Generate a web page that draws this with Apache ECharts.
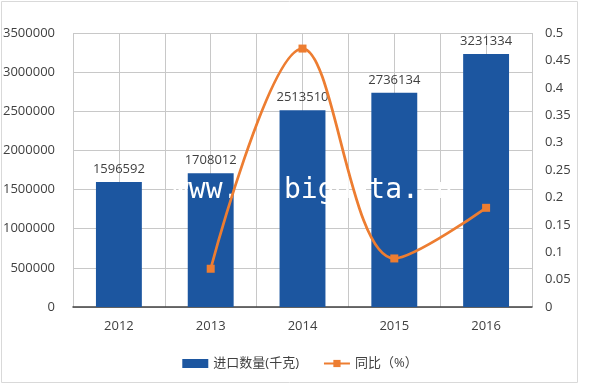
<!doctype html>
<html>
    <head>
        <meta charset="utf-8">
        <title>进口数量</title>
        <style>
            html, body { margin: 0; padding: 0; background: #fff; }
            #main { width: 600px; height: 385px; }
        </style>
    </head>
    <body>
        <div id="main"></div>
        <script src="https://cdn.jsdelivr.net/npm/echarts@6/dist/echarts.min.js"></script>
        <script>
            var years = ['2012', '2013', '2014', '2015', '2016'];
            var importQty = [1596592, 1708012, 2513510, 2736134, 3231334];
            var yoy = [null, 0.0698, 0.4716, 0.0886, 0.181];
            var leftTicks = [0, 3500000, 500000];   // min, max, step
            var rightTicks = [0, 0.5, 0.05];

            var halfSlots = [];
            for (var i = 0; i < years.length * 2; i++) halfSlots.push('');

            var chart = echarts.init(document.getElementById('main'));
            var font = '"Open Sans", "Noto Sans CJK SC", sans-serif';
            var markFont = '28px "DejaVu Sans Mono", monospace';

            chart.setOption({
                animation: false,
                textStyle: { fontFamily: font },
                graphic: [{
                    type: 'rect',
                    shape: { x: 1.5, y: 1.5, width: 576, height: 381 },
                    style: { fill: 'none', stroke: '#d9d9d9', lineWidth: 1 },
                    z: -1
                }, {
                    // watermark: white, so it only shows on the bars
                    type: 'text',
                    x: 172, y: 191,
                    style: { text: 'www.', fill: '#ffffff', verticalAlign: 'middle', font: markFont },
                    z: 3
                }, {
                    type: 'text',
                    x: 284, y: 191,
                    style: { text: 'bigdata.cn', fill: '#ffffff', verticalAlign: 'middle', font: markFont },
                    z: 3
                }],
                grid: { left: 73, right: 68, top: 33, bottom: 78, outerBoundsMode: 'none' },
                legend: {
                    bottom: 10,
                    left: 'center',
                    itemGap: 24,
                    itemWidth: 26,
                    itemHeight: 9,
                    textStyle: { fontSize: 13, color: '#404040', fontFamily: font },
                    data: [
                        { name: '进口数量(千克)', icon: 'rect' },
                        { name: '同比（%）' }
                    ]
                },
                xAxis: [{
                    type: 'category',
                    data: years,
                    axisLine: { lineStyle: { color: '#404040', width: 1.5 } },
                    axisTick: { show: false },
                    axisLabel: { color: '#404040', fontSize: 13, margin: 13 },
                    splitLine: { show: false }
                }, {
                    type: 'category',
                    data: halfSlots,
                    position: 'bottom',
                    axisLine: { show: false },
                    axisTick: { show: false },
                    axisLabel: { show: false },
                    splitLine: { show: true, lineStyle: { color: '#c8c8c8' } }
                }],
                yAxis: [{
                    type: 'value',
                    min: leftTicks[0], max: leftTicks[1], interval: leftTicks[2],
                    axisLine: { show: false },
                    axisTick: { show: false },
                    axisLabel: {
                        color: '#404040', fontSize: 13, margin: 18,
                        formatter: function (v) { return String(v); }
                    },
                    splitLine: { lineStyle: { color: '#c8c8c8' } }
                }, {
                    type: 'value',
                    min: rightTicks[0], max: rightTicks[1], interval: rightTicks[2],
                    axisLine: { show: false },
                    axisTick: { show: false },
                    axisLabel: {
                        color: '#404040', fontSize: 13, margin: 13,
                        formatter: function (v) { return String(+v.toFixed(2)); }
                    },
                    splitLine: { show: false }
                }],
                series: [{
                    name: '进口数量(千克)',
                    type: 'bar',
                    data: importQty,
                    barWidth: '50%',
                    itemStyle: { color: '#1c56a0' },
                    label: {
                        show: true,
                        position: 'top',
                        distance: 6,
                        color: '#404040',
                        fontSize: 13
                    },
                    z: 2
                }, {
                    name: '同比（%）',
                    type: 'line',
                    yAxisIndex: 1,
                    data: yoy,
                    smooth: 0.35,
                    symbol: 'rect',
                    symbolSize: 8,
                    lineStyle: { color: '#ed7d31', width: 2.75 },
                    itemStyle: { color: '#ed7d31' },
                    z: 5
                }]
            });
        </script>
    </body>
</html>
